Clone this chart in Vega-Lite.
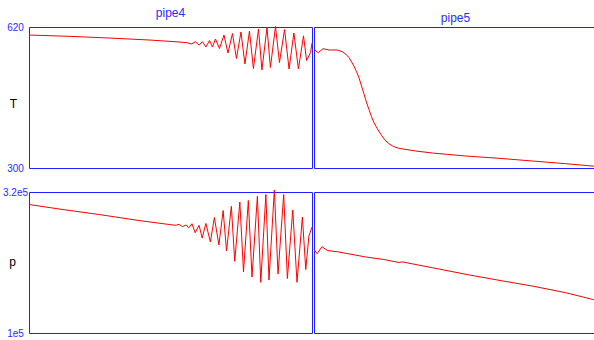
{
  "$schema": "https://vega.github.io/schema/vega-lite/v6.json",
  "padding": {"left": 1, "top": 6, "right": 0, "bottom": 0},
  "background": "white",
  "config": {
    "view": {"stroke": "#1f1fff", "strokeWidth": 1},
    "font": "Liberation Sans",
    "title": {"color": "#2a2aff", "fontSize": 12, "fontWeight": "normal", "font": "Liberation Sans", "offset": 2, "baseline": "alphabetic"}
  },
  "datasets": {
    "T_pipe4": [
      {"x": 0, "T": 601.8}, {"x": 0.141, "T": 598.9}, {"x": 0.283, "T": 595.0}, {"x": 0.424, "T": 590.5},
      {"x": 0.53, "T": 586.0}, {"x": 0.558, "T": 584.4}, {"x": 0.574, "T": 581.4}, {"x": 0.588, "T": 586.6},
      {"x": 0.601, "T": 579.1}, {"x": 0.613, "T": 586.6}, {"x": 0.625, "T": 574.6}, {"x": 0.638, "T": 589.4},
      {"x": 0.648, "T": 574.6}, {"x": 0.659, "T": 592.8}, {"x": 0.673, "T": 571.2}, {"x": 0.689, "T": 601.8},
      {"x": 0.703, "T": 561.0}, {"x": 0.719, "T": 605.2}, {"x": 0.733, "T": 548.5}, {"x": 0.749, "T": 608.7},
      {"x": 0.763, "T": 536.0}, {"x": 0.779, "T": 610.9}, {"x": 0.793, "T": 525.8}, {"x": 0.811, "T": 615.5},
      {"x": 0.823, "T": 522.4}, {"x": 0.841, "T": 618.9}, {"x": 0.853, "T": 528.1}, {"x": 0.871, "T": 621.1},
      {"x": 0.885, "T": 539.4}, {"x": 0.903, "T": 614.3}, {"x": 0.919, "T": 524.7}, {"x": 0.936, "T": 606.4},
      {"x": 0.952, "T": 524.7}, {"x": 0.97, "T": 600.0}, {"x": 0.981, "T": 544.0}, {"x": 0.995, "T": 562.1},
      {"x": 1.0, "T": 583.7}
    ],
    "T_pipe5": [
      {"x": 0, "T": 569.4}, {"x": 0.015, "T": 561.7}, {"x": 0.032, "T": 570.8}, {"x": 0.053, "T": 567.8},
      {"x": 0.082, "T": 567.8}, {"x": 0.1, "T": 563.9}, {"x": 0.112, "T": 558.5}, {"x": 0.124, "T": 550.3},
      {"x": 0.141, "T": 531.5}, {"x": 0.15, "T": 519.0}, {"x": 0.159, "T": 504.9}, {"x": 0.168, "T": 486.0},
      {"x": 0.177, "T": 467.3}, {"x": 0.185, "T": 450.0}, {"x": 0.194, "T": 433.2}, {"x": 0.203, "T": 417.0},
      {"x": 0.212, "T": 402.8}, {"x": 0.224, "T": 389.0}, {"x": 0.236, "T": 376.5}, {"x": 0.25, "T": 364.0},
      {"x": 0.265, "T": 355.1}, {"x": 0.28, "T": 349.0}, {"x": 0.3, "T": 344.7}, {"x": 0.359, "T": 338.6},
      {"x": 0.418, "T": 334.0}, {"x": 0.536, "T": 327.2}, {"x": 0.654, "T": 322.0}, {"x": 0.771, "T": 315.9},
      {"x": 0.889, "T": 309.8}, {"x": 0.983, "T": 304.5}, {"x": 1.0, "T": 303.7}
    ],
    "p_pipe4": [
      {"x": 0, "p": 300500}, {"x": 0.106, "p": 293500}, {"x": 0.247, "p": 284900}, {"x": 0.389, "p": 275500},
      {"x": 0.495, "p": 269300}, {"x": 0.519, "p": 268000}, {"x": 0.53, "p": 269600}, {"x": 0.542, "p": 265900},
      {"x": 0.555, "p": 268500}, {"x": 0.565, "p": 264300}, {"x": 0.576, "p": 270500}, {"x": 0.587, "p": 256500},
      {"x": 0.601, "p": 268000}, {"x": 0.612, "p": 248200}, {"x": 0.625, "p": 270900}, {"x": 0.641, "p": 242000},
      {"x": 0.655, "p": 280200}, {"x": 0.671, "p": 237300}, {"x": 0.686, "p": 291100}, {"x": 0.698, "p": 227900},
      {"x": 0.715, "p": 297700}, {"x": 0.727, "p": 211900}, {"x": 0.745, "p": 304400}, {"x": 0.758, "p": 195200},
      {"x": 0.775, "p": 306700}, {"x": 0.788, "p": 187400}, {"x": 0.807, "p": 313300}, {"x": 0.819, "p": 179100},
      {"x": 0.837, "p": 316100}, {"x": 0.848, "p": 182700}, {"x": 0.867, "p": 323100}, {"x": 0.88, "p": 192100},
      {"x": 0.9, "p": 316100}, {"x": 0.913, "p": 185000}, {"x": 0.932, "p": 291900}, {"x": 0.947, "p": 179100},
      {"x": 0.966, "p": 281000}, {"x": 0.978, "p": 199100}, {"x": 0.989, "p": 251300}, {"x": 1.0, "p": 265400}
    ],
    "p_pipe5": [
      {"x": 0, "p": 230600}, {"x": 0.011, "p": 223700}, {"x": 0.028, "p": 234700}, {"x": 0.047, "p": 228700},
      {"x": 0.088, "p": 226400}, {"x": 0.183, "p": 218600}, {"x": 0.247, "p": 214700}, {"x": 0.3, "p": 210000},
      {"x": 0.311, "p": 211000}, {"x": 0.418, "p": 201900}, {"x": 0.536, "p": 191600}, {"x": 0.654, "p": 182200},
      {"x": 0.771, "p": 173300}, {"x": 0.889, "p": 162900}, {"x": 0.983, "p": 152600}, {"x": 1.0, "p": 150800}
    ]
  },
  "columns": 2,
  "bounds": "flush",
  "spacing": {"row": 24, "column": 2},
  "resolve": {"scale": {"x": "independent", "y": "independent"}, "axis": {"x": "independent", "y": "independent"}},
  "concat": [
    {
      "title": "pipe4",
      "width": 283, "height": 141,
      "data": {"name": "T_pipe4"},
      "mark": {"type": "line", "color": "#ff0000", "strokeWidth": 1},
      "encoding": {
        "x": {"field": "x", "type": "quantitative", "scale": {"domain": [0, 1], "nice": false, "zero": false}, "axis": null},
        "y": {"field": "T", "type": "quantitative", "scale": {"domain": [300, 620], "nice": false, "zero": false},
          "axis": {"values": [300, 620], "title": "T", "titleAngle": 0, "titleX": -16, "titleY": 76, "titleAlign": "center", "titleBaseline": "middle", "titleColor": "#000000", "titleFontSize": 12, "titleFontWeight": "normal", "titleFont": "Liberation Sans", "labelColor": "#2a2aff", "labelFontSize": 10, "labelFont": "Liberation Sans", "labelAlign": "center", "labelBaseline": "middle", "labelPadding": 14, "ticks": false, "tickSize": 0, "domain": false, "grid": false, "labelOverlap": false}}
      }
    },
    {
      "title": "pipe5",
      "width": 283, "height": 141,
      "data": {"name": "T_pipe5"},
      "mark": {"type": "line", "color": "#ff0000", "strokeWidth": 1},
      "encoding": {
        "x": {"field": "x", "type": "quantitative", "scale": {"domain": [0, 1], "nice": false, "zero": false}, "axis": null},
        "y": {"field": "T", "type": "quantitative", "scale": {"domain": [300, 620], "nice": false, "zero": false}, "axis": null}
      }
    },
    {
      "width": 283, "height": 141,
      "data": {"name": "p_pipe4"},
      "mark": {"type": "line", "color": "#ff0000", "strokeWidth": 1},
      "encoding": {
        "x": {"field": "x", "type": "quantitative", "scale": {"domain": [0, 1], "nice": false, "zero": false}, "axis": null},
        "y": {"field": "p", "type": "quantitative", "scale": {"domain": [100000, 320000], "nice": false, "zero": false},
          "axis": {"values": [100000, 320000], "labelExpr": "datum.value >= 300000 ? '3.2e5' : '1e5'", "title": "p", "titleAngle": 0, "titleX": -17, "titleY": 69, "titleAlign": "center", "titleBaseline": "middle", "titleColor": "#000000", "titleFontSize": 12, "titleFontWeight": "normal", "titleFont": "Liberation Sans", "labelColor": "#2a2aff", "labelFontSize": 10, "labelFont": "Liberation Sans", "labelAlign": "center", "labelBaseline": "middle", "labelPadding": 14, "ticks": false, "tickSize": 0, "domain": false, "grid": false, "labelOverlap": false}}
      }
    },
    {
      "width": 283, "height": 141,
      "data": {"name": "p_pipe5"},
      "mark": {"type": "line", "color": "#ff0000", "strokeWidth": 1},
      "encoding": {
        "x": {"field": "x", "type": "quantitative", "scale": {"domain": [0, 1], "nice": false, "zero": false}, "axis": null},
        "y": {"field": "p", "type": "quantitative", "scale": {"domain": [100000, 320000], "nice": false, "zero": false}, "axis": null}
      }
    }
  ]
}
